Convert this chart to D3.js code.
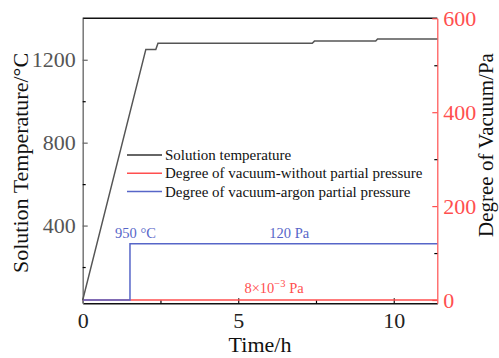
<!DOCTYPE html>
<html>
<head>
<meta charset="utf-8">
<script src="https://cdn.jsdelivr.net/npm/d3@7"></script>
<style>
  body { margin: 0; background: #fff; }
  text { font-family: 'Liberation Serif', 'Times New Roman', serif; }
</style>
</head>
<body>
<div id="chart-area"></div>
<script>
// time (h) and solution temperature (degC)
const tempTime = [0, 2.03, 2.35, 2.42, 7.38, 7.45, 9.42, 9.48, 11.4]
const tempValue = [40, 1250, 1250, 1280, 1280, 1290, 1290, 1300, 1300]
// degree of vacuum (Pa), without partial pressure
const vacTime = [0, 11.4]
const vacValue = [0, 0]
// degree of vacuum (Pa), argon partial pressure
const argonTime = [0, 1.52, 1.52, 11.4]
const argonValue = [0, 0, 120, 120]

const xTicks = [0, 5, 10]
const xMinor = [2.5, 7.5]
const leftTicks = [400, 800, 1200]
const leftMinor = [200, 600, 1000]
const rightTicks = [0, 200, 400, 600]
const rightMinor = [100, 300, 500]

const legendLabels = ['Solution temperature', 'Degree of vacuum-without partial pressure', 'Degree of vacuum-argon partial pressure']

const margin = { top: 18.3, right: 61.7, bottom: 54.7, left: 82.7 }
const width = 499 - margin.left - margin.right
const height = 358 - margin.top - margin.bottom

const black = '#333'
const red = '#ff4f4f'
const blue = '#5766c8'

const svg = d3.select('#chart-area').append('svg')
  .attr('width', 499)
  .attr('height', 358)
const g = svg.append('g')
  .attr('transform', `translate(${margin.left},${margin.top})`)

const xScale = d3.scaleLinear().domain([0, 11.4]).range([0, width])
const yLeft = d3.scaleLinear().domain([25, 1400]).range([height, 0])
const yRight = d3.scaleLinear().domain([-7, 600]).range([height, 0])

// frame top
g.append('line')
  .attr('x1', 0).attr('x2', width)
  .attr('y1', 0).attr('y2', 0)
  .attr('stroke', '#111').attr('stroke-width', 1.5)

// x axis
const xAxis = g.append('g')
  .attr('transform', `translate(0,${height})`)
  .call(d3.axisBottom(xScale).tickValues(xTicks).tickSize(-5).tickSizeOuter(0).tickPadding(9))
g.append('g')
  .attr('transform', `translate(0,${height})`)
  .call(d3.axisBottom(xScale).tickValues(xMinor).tickSize(-3).tickSizeOuter(0).tickFormat(''))
  .call(a => a.select('.domain').remove())

// left axis
const leftAxis = g.append('g')
  .call(d3.axisLeft(yLeft).tickValues(leftTicks).tickFormat(d3.format('d')).tickSize(-5).tickSizeOuter(0).tickPadding(7))
g.append('g')
  .call(d3.axisLeft(yLeft).tickValues(leftMinor).tickSize(-3).tickSizeOuter(0).tickFormat(''))
  .call(a => a.select('.domain').remove())

// right axis
const rightAxis = g.append('g')
  .attr('transform', `translate(${width},0)`)
  .call(d3.axisRight(yRight).tickValues(rightTicks).tickSize(-5).tickSizeOuter(0).tickPadding(6))
g.append('g')
  .attr('transform', `translate(${width},0)`)
  .call(d3.axisRight(yRight).tickValues(rightMinor).tickSize(-3).tickSizeOuter(0).tickFormat(''))
  .call(a => a.select('.domain').remove())

g.selectAll('.tick text').attr('font-size', 22).attr('font-family', 'Liberation Serif')
xAxis.selectAll('.domain, line').attr('stroke', '#111').attr('stroke-width', 1.5)
xAxis.selectAll('text').attr('fill', '#222')
leftAxis.selectAll('.domain').attr('stroke', '#777').attr('stroke-width', 1.5)
leftAxis.selectAll('line').attr('stroke', '#666')
leftAxis.selectAll('text').attr('fill', '#555')
rightAxis.selectAll('.domain, line').attr('stroke', red).attr('stroke-width', 1.2)
rightAxis.selectAll('text').attr('fill', red)
g.selectAll('.tick line').attr('stroke-width', 1.2)

// lines
const line = d3.line()
const series = [
  { t: vacTime, v: vacValue, y: yRight, color: red },
  { t: argonTime, v: argonValue, y: yRight, color: blue },
  { t: tempTime, v: tempValue, y: yLeft, color: '#555' }
]
series.forEach(s => {
  g.append('path')
    .attr('d', line(s.t.map((t, i) => [xScale(t), s.y(s.v[i])])))
    .attr('fill', 'none')
    .attr('stroke', s.color)
    .attr('stroke-width', 1.5)
})

// annotations
g.append('text')
  .attr('x', xScale(1.04)).attr('y', yRight(120) - 6)
  .attr('font-size', 14.5).attr('fill', blue)
  .text('950 °C')
g.append('text')
  .attr('x', xScale(6.0)).attr('y', yRight(120) - 6)
  .attr('font-size', 14.5).attr('fill', blue)
  .text('120 Pa')
const vacNote = g.append('text')
  .attr('x', xScale(5.2)).attr('y', yRight(0) - 7)
  .attr('font-size', 14.5).attr('fill', red)
vacNote.append('tspan').text('8×10')
vacNote.append('tspan').attr('dy', -6).attr('font-size', 10.5).text('−3')
vacNote.append('tspan').attr('dy', 6).text(' Pa')

// legend
const legendColors = [black, red, blue]
const legend = svg.append('g')
  .selectAll('g')
  .data(legendLabels)
  .enter()
  .append('g')
  .attr('transform', (d, i) => `translate(127,${155 + i * 18.3})`)
legend.append('line')
  .attr('x1', 0).attr('x2', 35)
  .attr('stroke', (d, i) => legendColors[i])
  .attr('stroke-width', 1.5)
legend.append('text')
  .attr('x', 38).attr('dy', '0.33em')
  .attr('font-size', 15).attr('fill', '#111')
  .text(d => d)

// axis titles
svg.append('text')
  .attr('x', margin.left + width / 2).attr('y', 352)
  .attr('text-anchor', 'middle').attr('font-size', 22).attr('fill', '#111')
  .text('Time/h')
svg.append('text')
  .attr('transform', 'translate(28,163) rotate(-90)')
  .attr('text-anchor', 'middle').attr('font-size', 22).attr('fill', '#111')
  .text('Solution Temperature/°C')
svg.append('text')
  .attr('transform', 'translate(493,145) rotate(-90)')
  .attr('text-anchor', 'middle').attr('font-size', 21).attr('fill', '#111')
  .text('Degree of Vacuum/Pa')
</script>
</body>
</html>
